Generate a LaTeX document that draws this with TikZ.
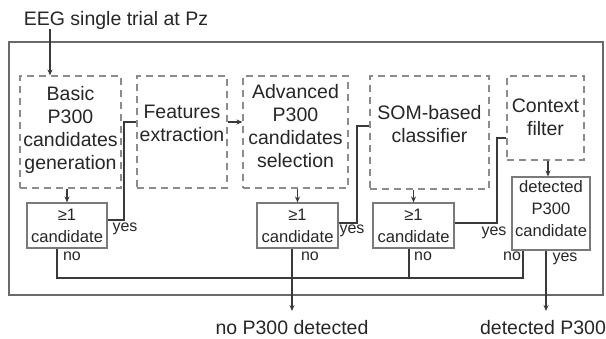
\documentclass[tikz,border=0pt]{standalone}
\usepackage{fontspec}
\setmainfont{Liberation Sans}
\usetikzlibrary{arrows.meta}
\definecolor{txtc}{HTML}{262626}
\definecolor{linec}{HTML}{3A3A3A}
\definecolor{dashc}{HTML}{8C8C8C}
\definecolor{boxc}{HTML}{7A7A7A}
\definecolor{framec}{HTML}{6A6A6A}
\newcommand\bigtxt{\fontsize{19.5}{23}\selectfont}
\newcommand\midtxt{\fontsize{16.6}{22}\selectfont}
\newcommand\lbltxt{\fontsize{16}{19}\selectfont}
\tikzset{
  dbox/.style={draw=dashc, line width=1.1pt, dash pattern=on 7pt off 5pt, inner sep=0pt},
  sbox/.style={draw=boxc, line width=1.1pt, inner sep=0pt},
  btext/.style={text=txtc, font=\bigtxt, align=center, inner sep=0pt},
  stext/.style={text=txtc, font=\midtxt, align=center, inner sep=0pt},
  lbl/.style={text=txtc, font=\lbltxt, inner sep=0pt, anchor=base},
  ln/.style={draw=linec, line width=1.2pt},
  arr/.style={ln, -{Stealth[length=6pt,width=5pt]}},
  framebox/.style={draw=framec, line width=1.3pt, inner sep=0pt}
}
\begin{document}
\begin{tikzpicture}[x=1pt,y=-1pt]
\useasboundingbox (0,0) rectangle (606,339);
% outer frame
\node[framebox, minimum width=594pt, minimum height=253pt] (frame) at (306,168.5) {};
% title
\node[btext, anchor=base] (title) at (116,26) {EEG single trial at Pz};
\coordinate (tin) at (50,29);
% dashed boxes
\node[dbox, minimum width=101pt, minimum height=112pt] (basic) at (70.5,132) {};
\node[btext] (basict) at (70.5,130) {Basic\\P300\\candidates\\generation};
\node[dbox, minimum width=90pt, minimum height=112pt] (feat) at (182,132) {};
\node[btext] (featt) at (182,123) {Features\\extraction};
\node[dbox, minimum width=105pt, minimum height=112pt] (adv) at (295.5,132) {};
\node[btext] (advt) at (295.5,126) {Advanced\\P300\\candidates\\selection};
\node[dbox, minimum width=119pt, minimum height=113pt] (som) at (429.5,132.5) {};
\node[btext] (somt) at (429.5,124) {SOM-based\\classifier};
\node[dbox, minimum width=77pt, minimum height=84pt] (ctx) at (545.5,118) {};
\node[btext] (ctxt) at (545.5,117.5) {Context\\filter};
% solid boxes
\node[sbox, minimum width=80pt, minimum height=45pt] (c1) at (67,225.5) {};
\node[stext] (c1t) at (67,226) {≥1\\candidate};
\node[sbox, minimum width=81pt, minimum height=45pt] (c2) at (297.5,225.5) {};
\node[stext] (c2t) at (297.5,226) {≥1\\candidate};
\node[sbox, minimum width=81pt, minimum height=45pt] (c3) at (413.5,225.5) {};
\node[stext] (c3t) at (413.5,226) {≥1\\candidate};
\node[sbox, minimum width=78pt, minimum height=73pt] (det) at (551,213.5) {};
\node[stext] (dett) at (551,209) {detected\\P300\\candidate};
% outputs
\node[btext, anchor=base] (nop) at (292,335) {no P300 detected};
\node[btext, anchor=base] (yesp) at (543,335) {detected P300};
\coordinate (nend) at (292,311);
\coordinate (dend) at (546,311);
% connectors
\draw[arr] (tin) -- (tin |- basic.north);
\draw[arr] (c1.north |- basic.south) -- (c1.north);
\draw[ln] (c1.east |- 0,220) -- (124,220) -- (124,122) -- (feat.west |- 0,122);
\draw[arr] (feat.east |- 0,122) -- (adv.west |- 0,122);
\draw[arr] (c2.north |- adv.south) -- (c2.north);
\draw[ln] (c2.east |- 0,223) -- (357,223) -- (357,126) -- (som.west |- 0,126);
\draw[arr] (c3.north |- som.south) -- (c3.north);
\draw[ln] (c3.east |- 0,223) -- (497,223) -- (497,138) -- (ctx.west |- 0,138);
\draw[arr] (ctx.south -| 548,0) -- (det.north -| 548,0);
\draw[arr] (det.south -| 546,0) -- (dend);
\draw[ln] (c1.south -| 57,0) -- (57,278) -- (523,278) -- (det.south -| 523,0);
\draw[arr] (c2.south -| 292,0) -- (nend);
\draw[ln] (c3.south -| 409,0) -- (409,278);
% labels
\node[lbl] (y1) at (125,232) {yes};
\node[lbl] (n1) at (72,261) {no};
\node[lbl] (y2) at (352,234) {yes};
\node[lbl] (n2) at (310,261) {no};
\node[lbl] (y3) at (494,236) {yes};
\node[lbl] (n3) at (423,261) {no};
\node[lbl] (n4) at (512,261) {no};
\node[lbl] (y4) at (565,262) {yes};
\end{tikzpicture}
\end{document}
